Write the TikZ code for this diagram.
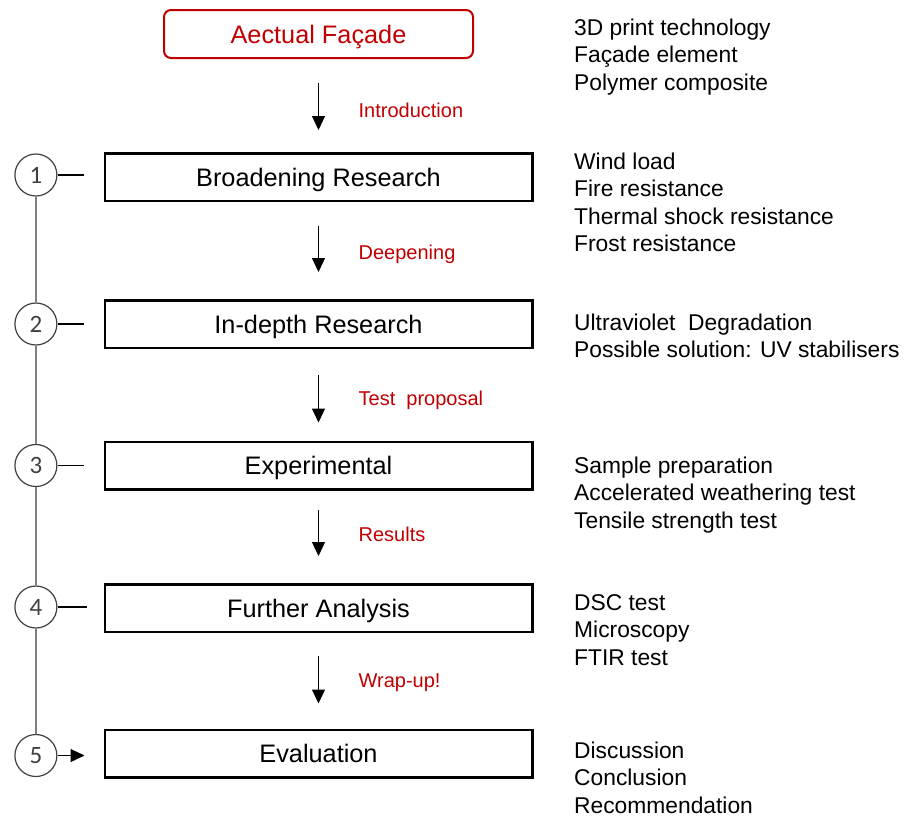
\documentclass[tikz,border=0pt]{standalone}
\usepackage{fontspec}
\setmainfont{Liberation Sans}
\newfontfamily\numfont{Carlito}
\usetikzlibrary{shapes.geometric, arrows.meta, positioning}
\definecolor{darkred}{RGB}{192,0,0}
\definecolor{circgray}{RGB}{64,64,64}
\definecolor{linegray}{RGB}{128,128,128}
\tikzstyle{startstop} = [rectangle, rounded corners=7pt, minimum width=309pt, minimum height=48pt, text height=18.1pt, text depth=0pt, text centered, draw=darkred, line width=2pt, text=darkred, font=\fontsize{25.3}{30}\selectfont]
\tikzstyle{process} = [rectangle, minimum width=427.5pt, minimum height=47.5pt, text height=18.1pt, text depth=0pt, text centered, draw=black, line width=2.5pt, font=\fontsize{25.3}{30}\selectfont]
\tikzstyle{stage} = [circle, minimum size=42pt, inner sep=0pt, draw=circgray, line width=1.2pt, text=circgray, font=\numfont\fontsize{25}{28}\selectfont]
\tikzstyle{note} = [anchor=north west, inner sep=0pt, align=left, font=\fontsize{22.8}{27.5}\selectfont]
\tikzstyle{transition} = [anchor=west, inner sep=0pt, xshift=39.5pt, text height=14.3pt, text depth=0pt, text=darkred, font=\fontsize{20}{24}\selectfont]
\tikzstyle{arrow} = [line width=1.3pt, -{Triangle[width=13pt,length=14pt]}]
\tikzstyle{link} = [line width=1.3pt]
\tikzstyle{timeline} = [draw=linegray, line width=1.6pt]

\begin{document}
\begin{tikzpicture}[node distance=144pt, x=1pt, y=1pt]
        \useasboundingbox (0,0) rectangle (904,-817);

        % Nodes for the start and the research steps
        \node (facade) [startstop] at (318.5,-34) {Aectual Façade};
        \node (broad) [process, below of=facade, yshift=1pt] {Broadening Research};
        \node (depth) [process, below of=broad, yshift=-3pt] {In-depth Research};
        \node (exper) [process, below of=depth, yshift=2.5pt] {Experimental};
        \node (further) [process, below of=exper, yshift=1.5pt] {Further Analysis};
        \node (eval) [process, below of=further, yshift=-1.5pt] {Evaluation};

        % Nodes for the numbered stages (aligned left)
        \node (s1) [stage, left=46pt of broad.west, yshift=2pt] {1};
        \node (s2) [stage, left=46pt of depth.west] {2};
        \node (s3) [stage, left=46pt of exper.west] {3};
        \node (s4) [stage, left=46pt of further.west, yshift=1pt] {4};
        \node (s5) [stage, left=46pt of eval.west, yshift=-2pt] {5};

        % Nodes for the notes on the right
        \node (noteFacade) [note] at (574,-15.75) {\strut 3D print technology\\ Façade element\\ Polymer composite};
        \node (noteBroad) [note] at (574,-149.75) {\strut Wind load\\ Fire resistance\\ Thermal shock resistance\\ Frost resistance};
        \node (noteDepth) [note] at (574,-310.75) {\strut Ultraviolet~ Degradation\\ Possible solution: UV stabilisers};
        \node (noteExper) [note] at (574,-453.75) {\strut Sample preparation\\ Accelerated weathering test\\ Tensile strength test};
        \node (noteFurther) [note] at (574,-590.75) {\strut DSC test\\ Microscopy\\ FTIR test};
        \node (noteEval) [note] at (574,-738.75) {\strut Discussion\\ Conclusion\\ Recommendation};

        % Arrows between the steps
        \draw [arrow, shorten <=24pt, shorten >=22pt] (facade) -- node[transition, yshift=-4.5pt] {Introduction} (broad);
        \draw [arrow, shorten <=24pt, shorten >=27pt] (broad) -- node[transition, yshift=-1.5pt] {Deepening} (depth);
        \draw [arrow, shorten <=26pt, shorten >=18pt] (depth) -- node[transition, yshift=-4pt] {Test~ proposal} (exper);
        \draw [arrow, shorten <=19pt, shorten >=27pt] (exper) -- node[transition, yshift=2.5pt] {Results} (further);
        \draw [arrow, shorten <=23pt, shorten >=25pt] (further) -- node[transition] {Wrap-up!} (eval);

        % Line through the stages
        \draw [timeline] (s1) -- (s2);
        \draw [timeline] (s2) -- (s3);
        \draw [timeline] (s3) -- (s4);
        \draw [timeline] (s4) -- (s5);

        % Ticks from the stages to the steps
        \draw [link] (s1) -- ([xshift=-20pt, yshift=2pt]broad.west);
        \draw [link] (s2) -- ([xshift=-20pt]depth.west);
        \draw [link] (s3) -- ([xshift=-20pt]exper.west);
        \draw [link] (s4) -- ([xshift=-17pt, yshift=1pt]further.west);
        \draw [arrow] (s5) -- ([xshift=-19pt, yshift=-2pt]eval.west);

    \end{tikzpicture}
\end{document}
